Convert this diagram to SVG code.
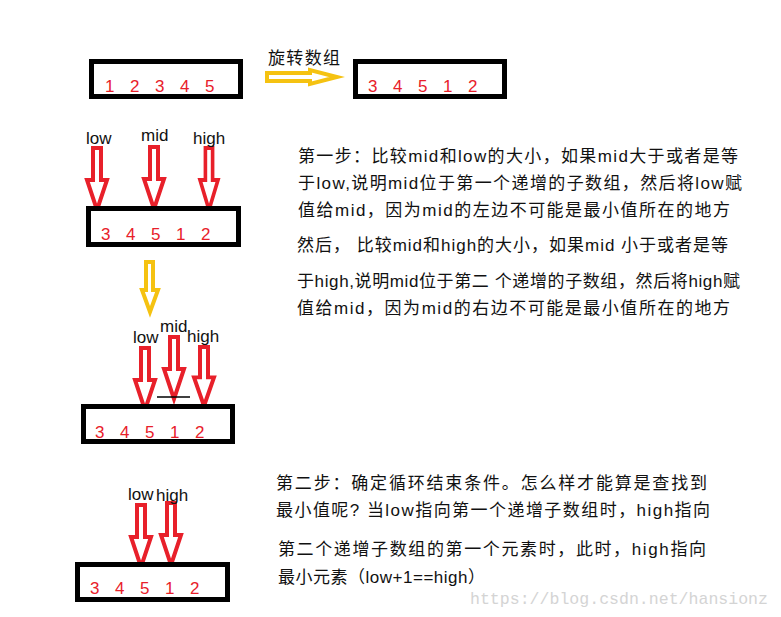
<svg xmlns="http://www.w3.org/2000/svg" width="781" height="617" viewBox="0 0 781 617">
<style>
.box{fill:#fff;stroke:#000;stroke-width:5}
.dg{font-family:"Liberation Sans",sans-serif;font-size:17px;fill:#e8202a}
.lb{font-family:"Liberation Sans",sans-serif;font-size:17px;fill:#111}
.cn{font-family:"Liberation Sans","Noto Sans CJK SC",sans-serif;font-size:17px;fill:#111}
.ra{fill:#fff;stroke:#e8202a;stroke-width:4;stroke-linejoin:miter}
.ya{fill:#fff;stroke:#f5c211;stroke-width:4}
.wm{font-family:"Liberation Mono",monospace;font-size:17px;fill:#d4d4d4}
</style>
<defs>
<path id="dn" d="M-4,0 H4 V32 H10 L0,62 L-10,32 H-4 Z"/>
</defs>
<rect width="781" height="617" fill="#fff"/>
<g id="array1"><rect class="box" x="91.5" y="61.5" width="149" height="35"/>
<text class="dg" y="92"><tspan x="105">1</tspan><tspan x="130">2</tspan><tspan x="155">3</tspan><tspan x="180">4</tspan><tspan x="205">5</tspan></text></g>
<g id="array2"><rect class="box" x="355.5" y="61.5" width="149" height="35"/>
<text class="dg" y="92"><tspan x="368">3</tspan><tspan x="393">4</tspan><tspan x="418">5</tspan><tspan x="443">1</tspan><tspan x="468">2</tspan></text></g>
<text class="cn" x="268" y="64" font-size="18" textLength="72" lengthAdjust="spacing">旋转数组</text>
<g id="connectors">
<path class="ya" d="M267,73 H310 V70 L337,77 L310,84 V81 H267 Z"/>
<path class="ya" d="M146,262 H153 V290 H158 L150,312 L142,290 H146 Z"/>
<use href="#dn" class="ra" transform="translate(97,148) scale(1,1)"/>
<use href="#dn" class="ra" transform="translate(154,147)"/>
<use href="#dn" class="ra" transform="translate(209,148) scale(0.9,1)"/>
<use href="#dn" class="ra" transform="translate(145,348)"/>
<use href="#dn" class="ra" transform="translate(174,337)"/>
<use href="#dn" class="ra" transform="translate(204,347) scale(1,0.95)"/>
<use href="#dn" class="ra" transform="translate(141,505)"/>
<use href="#dn" class="ra" transform="translate(171,503)"/>
<line x1="157" y1="397" x2="190" y2="397" stroke="#000" stroke-width="1.5"/>
</g>
<g id="row2">
<rect class="box" x="88.5" y="208.5" width="150" height="36"/>
<text class="dg" y="240"><tspan x="101">3</tspan><tspan x="126">4</tspan><tspan x="151">5</tspan><tspan x="176">1</tspan><tspan x="201">2</tspan></text>
<text class="lb" x="86" y="144">low</text><text class="lb" x="141" y="141">mid</text><text class="lb" x="193" y="144">high</text>
</g>
<g id="row3">
<rect class="box" x="83.5" y="406.5" width="149" height="35"/>
<text class="dg" y="438"><tspan x="95">3</tspan><tspan x="120">4</tspan><tspan x="145">5</tspan><tspan x="170">1</tspan><tspan x="195">2</tspan></text>
<text class="lb" x="133" y="343">low</text><text class="lb" x="160" y="332">mid</text><text class="lb" x="187" y="342">high</text>
</g>
<g id="row4">
<rect class="box" x="77.5" y="564.5" width="150" height="35"/>
<text class="dg" y="594"><tspan x="90">3</tspan><tspan x="115">4</tspan><tspan x="140">5</tspan><tspan x="165">1</tspan><tspan x="190">2</tspan></text>
<text class="lb" x="128" y="500">low</text><text class="lb" x="156" y="501">high</text>
</g>
<g id="step1">
<text class="cn" x="298" y="162" textLength="440" lengthAdjust="spacing">第一步：比较mid和low的大小，如果mid大于或者是等</text>
<text class="cn" x="298" y="189" textLength="444" lengthAdjust="spacing">于low,说明mid位于第一个递增的子数组，然后将low赋</text>
<text class="cn" x="298" y="216" textLength="432" lengthAdjust="spacing">值给mid，因为mid的左边不可能是最小值所在的地方</text>
<text class="cn" x="297" y="251" textLength="431" lengthAdjust="spacing">然后，  比较mid和high的大小，如果mid 小于或者是等</text>
<text class="cn" x="297" y="287" textLength="443" lengthAdjust="spacing">于high,说明mid位于第二 个递增的子数组，然后将high赋</text>
<text class="cn" x="297" y="314" textLength="433" lengthAdjust="spacing">值给mid，因为mid的右边不可能是最小值所在的地方</text>
</g>
<g id="step2">
<text class="cn" x="276" y="489" textLength="431" lengthAdjust="spacing">第二步：确定循环结束条件。怎么样才能算是查找到</text>
<text class="cn" x="276" y="516" textLength="434" lengthAdjust="spacing">最小值呢? 当low指向第一个递增子数组时，high指向</text>
<text class="cn" x="278" y="555" textLength="428" lengthAdjust="spacing">第二个递增子数组的第一个元素时，此时，high指向</text>
<text class="cn" x="278" y="583" textLength="207" lengthAdjust="spacing">最小元素（low+1==high）</text>
</g>
<text class="wm" x="470" y="604" textLength="298" lengthAdjust="spacingAndGlyphs">https://blog.csdn.net/hansionz</text>
</svg>
